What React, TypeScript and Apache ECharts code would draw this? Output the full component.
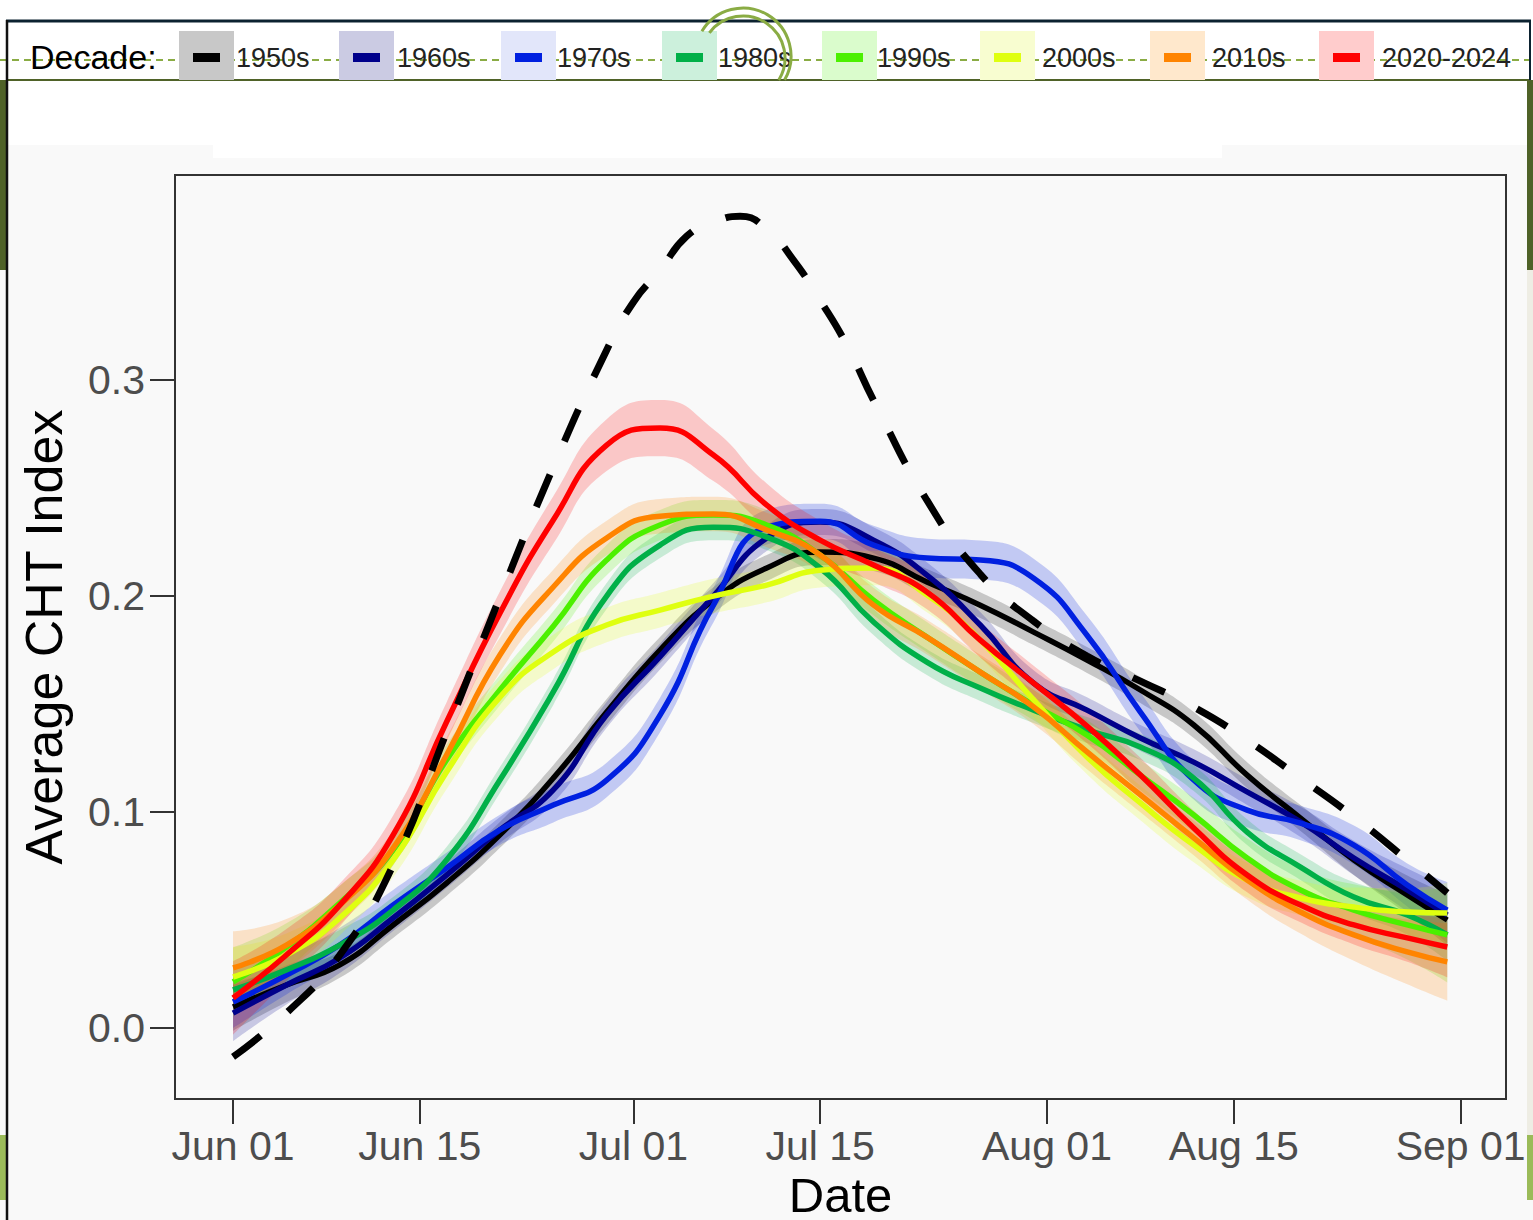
import React, { useEffect, useRef } from "react";
import * as echarts from "echarts";

// ---------- data ----------
const DAYS = [0, 4, 8, 12, 16, 20, 24, 28, 32, 36, 40, 44, 48, 52, 56, 60, 64, 68, 72, 76, 80, 84, 88, 91];

const DECADES = ["1950s", "1960s", "1970s", "1980s", "1990s", "2000s", "2010s", "2020-2024"];
const LINE_COLORS = ["#000000", "#00008b", "#0020e0", "#00b048", "#4cf000", "#dfff10", "#ff8400", "#ff0000"];
const BAND_COLORS = [
  "rgba(0,0,0,0.2)",
  "rgba(0,0,139,0.2)",
  "rgba(0,32,224,0.22)",
  "rgba(0,176,72,0.2)",
  "rgba(76,240,0,0.2)",
  "rgba(223,255,16,0.2)",
  "rgba(255,132,0,0.2)",
  "rgba(255,0,0,0.2)",
];
const KEY_COLORS = ["#c8c8c8", "#cbcbe3", "#e2e6fa", "#ccf0dc", "#dafccc", "#f8fdd0", "#ffe8cc", "#ffcccc"];

const MEAN_1950S = [0.0097, 0.0199, 0.0292, 0.0477, 0.0671, 0.0894, 0.1157, 0.1463, 0.175, 0.1981, 0.213, 0.2204, 0.2176, 0.2065, 0.1958, 0.1833, 0.1704, 0.1565, 0.1403, 0.1171, 0.0972, 0.0778, 0.0616, 0.05];
const MEAN_1960S = [0.0069, 0.0199, 0.0324, 0.0509, 0.0708, 0.0917, 0.1102, 0.145, 0.172, 0.2, 0.2269, 0.2343, 0.2259, 0.2097, 0.1866, 0.1597, 0.1472, 0.1343, 0.1231, 0.1093, 0.0954, 0.0787, 0.0639, 0.0523];
const MEAN_1970S = [0.012, 0.0245, 0.0384, 0.0569, 0.0741, 0.0917, 0.1032, 0.1148, 0.1449, 0.1958, 0.2319, 0.2347, 0.2236, 0.2176, 0.2167, 0.2083, 0.1819, 0.1463, 0.1148, 0.1009, 0.0949, 0.0847, 0.0662, 0.0546];
const MEAN_1980S = [0.0176, 0.0269, 0.0384, 0.0546, 0.0778, 0.1148, 0.1556, 0.2, 0.2236, 0.2319, 0.2273, 0.213, 0.188, 0.1694, 0.1574, 0.1472, 0.138, 0.1301, 0.1157, 0.0907, 0.0745, 0.0606, 0.0523, 0.0431];
const MEAN_1990S = [0.0213, 0.0375, 0.0579, 0.0824, 0.1241, 0.1565, 0.186, 0.2167, 0.2329, 0.2375, 0.2329, 0.219, 0.1981, 0.181, 0.1648, 0.1495, 0.1356, 0.1171, 0.0986, 0.0787, 0.0639, 0.0546, 0.0477, 0.0431];
const MEAN_2000S = [0.0236, 0.0338, 0.0509, 0.0778, 0.1185, 0.1532, 0.1741, 0.1866, 0.1935, 0.2, 0.2051, 0.212, 0.213, 0.2005, 0.1796, 0.1519, 0.1255, 0.1042, 0.0847, 0.0685, 0.0602, 0.056, 0.0537, 0.0532];
const MEAN_2010S = [0.0278, 0.0384, 0.0569, 0.0833, 0.1264, 0.1727, 0.2042, 0.2269, 0.237, 0.238, 0.2306, 0.219, 0.1958, 0.181, 0.1648, 0.1486, 0.1278, 0.1079, 0.088, 0.0685, 0.0537, 0.0431, 0.0352, 0.0306];
const MEAN_2020S = [0.0139, 0.0338, 0.0569, 0.0894, 0.1417, 0.1921, 0.2352, 0.2699, 0.2778, 0.2653, 0.2421, 0.2259, 0.2144, 0.2019, 0.1796, 0.1597, 0.1398, 0.1171, 0.0926, 0.0708, 0.0569, 0.0477, 0.0417, 0.0375];

const SE_1950S = [0.011, 0.008, 0.006, 0.006, 0.006, 0.006, 0.006, 0.006, 0.006, 0.006, 0.006, 0.006, 0.006, 0.006, 0.006, 0.006, 0.006, 0.006, 0.006, 0.006, 0.006, 0.007, 0.009, 0.012];
const SE_1960S = [0.013, 0.009, 0.007, 0.006, 0.006, 0.006, 0.006, 0.006, 0.006, 0.006, 0.006, 0.006, 0.006, 0.006, 0.006, 0.006, 0.006, 0.006, 0.006, 0.006, 0.007, 0.008, 0.01, 0.013];
const SE_1970S = [0.012, 0.009, 0.008, 0.007, 0.007, 0.007, 0.008, 0.008, 0.008, 0.008, 0.008, 0.008, 0.009, 0.009, 0.009, 0.009, 0.009, 0.009, 0.009, 0.008, 0.008, 0.009, 0.01, 0.013];
const SE_1980S = [0.011, 0.008, 0.007, 0.006, 0.006, 0.006, 0.006, 0.006, 0.006, 0.006, 0.006, 0.006, 0.006, 0.006, 0.006, 0.006, 0.006, 0.006, 0.006, 0.006, 0.006, 0.007, 0.009, 0.012];
const SE_1990S = [0.016, 0.011, 0.008, 0.007, 0.007, 0.007, 0.007, 0.007, 0.007, 0.007, 0.007, 0.007, 0.007, 0.007, 0.007, 0.007, 0.007, 0.007, 0.008, 0.009, 0.01, 0.012, 0.016, 0.022];
const SE_2000S = [0.014, 0.01, 0.008, 0.008, 0.008, 0.008, 0.008, 0.008, 0.008, 0.008, 0.008, 0.008, 0.008, 0.008, 0.008, 0.008, 0.008, 0.008, 0.008, 0.008, 0.008, 0.009, 0.011, 0.014];
const SE_2010S = [0.017, 0.012, 0.009, 0.008, 0.008, 0.008, 0.008, 0.008, 0.008, 0.008, 0.008, 0.008, 0.008, 0.008, 0.008, 0.008, 0.008, 0.008, 0.008, 0.009, 0.01, 0.012, 0.015, 0.018];
const SE_2020S = [0.017, 0.012, 0.01, 0.009, 0.009, 0.01, 0.011, 0.012, 0.013, 0.012, 0.01, 0.009, 0.008, 0.008, 0.008, 0.008, 0.008, 0.008, 0.008, 0.008, 0.008, 0.009, 0.011, 0.014];

const MEANS = [MEAN_1950S, MEAN_1960S, MEAN_1970S, MEAN_1980S, MEAN_1990S, MEAN_2000S, MEAN_2010S, MEAN_2020S];
const SES = [SE_1950S, SE_1960S, SE_1970S, SE_1980S, SE_1990S, SE_2000S, SE_2010S, SE_2020S];

// dashed overall curve
const OVERALL_DAYS = [0, 4, 8, 12, 16, 20, 24, 28, 30, 32, 34, 36, 38, 40, 42, 44, 46, 48, 52, 56, 60, 64, 68, 72, 76, 80, 84, 88, 91];
const OVERALL = [-0.0134, 0.0069, 0.0338, 0.0755, 0.137, 0.1995, 0.2597, 0.3139, 0.3361, 0.3509, 0.3667, 0.3731, 0.3759, 0.3699, 0.3556, 0.337, 0.3162, 0.2907, 0.2444, 0.2102, 0.1884, 0.1722, 0.1606, 0.1486, 0.1333, 0.1157, 0.0977, 0.0778, 0.0625];

const X_TICK_DAYS = [0, 14, 30, 44, 61, 75, 92];
const X_TICK_LABELS = ["Jun 01", "Jun 15", "Jul 01", "Jul 15", "Aug 01", "Aug 15", "Sep 01"];
const Y_TICKS = [0, 0.1, 0.2, 0.3];

// ---------- layout ----------
const W = 1533;
const H = 1220;
const X_MIN_DAY = -4.35;
const X_MAX_DAY = 95.4;
const Y_MIN = -0.0329;
const Y_MAX = 0.395;
const SMOOTH = 0.5;
const FONT = "'Liberation Sans', Arial, Helvetica, sans-serif";
const LEGEND_BOX_X = [179, 339, 501, 662, 822, 980, 1150, 1319];
const LEGEND_TEXT_X = [236, 397, 557, 718, 877, 1042, 1212, 1382];

// Smooth path segment in the same manner as ECharts' smoothed line
function smoothSegment(ctx: any, pts: number[][], moveFirst: boolean) {
  const n = pts.length;
  let prevX = 0, prevY = 0, cpx0 = 0, cpy0 = 0;
  for (let k = 0; k < n; k++) {
    const x = pts[k][0], y = pts[k][1];
    if (k === 0) {
      if (moveFirst) ctx.moveTo(x, y);
      else ctx.lineTo(x, y);
      cpx0 = x; cpy0 = y;
    } else {
      let cpx1 = x, cpy1 = y, nextCpx0 = x, nextCpy0 = y;
      if (k < n - 1) {
        const nextX = pts[k + 1][0], nextY = pts[k + 1][1];
        let vx = nextX - prevX, vy = nextY - prevY;
        const dx0 = x - prevX, dy0 = y - prevY, dx1 = nextX - x, dy1 = nextY - y;
        const lenPrev = Math.sqrt(dx0 * dx0 + dy0 * dy0);
        const lenNext = Math.sqrt(dx1 * dx1 + dy1 * dy1);
        const ratio = lenNext / (lenNext + lenPrev);
        nextCpx0 = x + vx * SMOOTH * ratio;
        nextCpy0 = y + vy * SMOOTH * ratio;
        nextCpx0 = Math.max(Math.min(nextCpx0, Math.max(nextX, x)), Math.min(nextX, x));
        nextCpy0 = Math.max(Math.min(nextCpy0, Math.max(nextY, y)), Math.min(nextY, y));
        vx = nextCpx0 - x; vy = nextCpy0 - y;
        cpx1 = x - (vx * lenPrev) / lenNext;
        cpy1 = y - (vy * lenPrev) / lenNext;
        cpx1 = Math.max(Math.min(cpx1, Math.max(prevX, x)), Math.min(prevX, x));
        cpy1 = Math.max(Math.min(cpy1, Math.max(prevY, y)), Math.min(prevY, y));
        vx = x - cpx1; vy = y - cpy1;
        nextCpx0 = x + (vx * lenNext) / lenPrev;
        nextCpy0 = y + (vy * lenNext) / lenPrev;
      }
      ctx.bezierCurveTo(cpx0, cpy0, cpx1, cpy1, x, y);
      cpx0 = nextCpx0; cpy0 = nextCpy0;
    }
    prevX = x; prevY = y;
  }
}

echarts.graphic.registerShape(
  "ciRibbon",
  echarts.graphic.extendShape({
    shape: { upper: [] as number[][], lower: [] as number[][] },
    buildPath(ctx: any, shape: any) {
      if (!shape.upper || !shape.upper.length) return;
      smoothSegment(ctx, shape.upper, true);
      smoothSegment(ctx, shape.lower.slice().reverse(), false);
      ctx.closePath();
    },
  }) as any
);

function buildOption() {
  const series: any[] = [];
  DECADES.forEach((name, i) => {
    const mean = MEANS[i];
    const se = SES[i];
    series.push({
      type: "custom",
      name: name + " band",
      coordinateSystem: "cartesian2d",
      silent: true,
      data: [[DAYS[0], mean[0]]],
      renderItem: (params: any, api: any) => {
        const upper = DAYS.map((d, k) => api.coord([d, mean[k] + se[k]]));
        const lower = DAYS.map((d, k) => api.coord([d, mean[k] - se[k]]));
        return {
          type: "ciRibbon",
          shape: { upper, lower },
          style: { fill: BAND_COLORS[i], stroke: null },
        };
      },
    });
    series.push({
      type: "line",
      name,
      data: DAYS.map((d, k) => [d, mean[k]]),
      smooth: SMOOTH,
      symbol: "none",
      silent: true,
      lineStyle: { color: LINE_COLORS[i], width: 5.5 },
      emphasis: { disabled: true },
    });
  });
  series.push({
    type: "line",
    name: "All years",
    data: OVERALL_DAYS.map((d, k) => [d, OVERALL[k]]),
    smooth: SMOOTH,
    symbol: "none",
    silent: true,
    z: 5,
    lineStyle: { color: "#000", width: 7, type: [35, 36], cap: "butt" },
    emphasis: { disabled: true },
  });

  const olive = "#4f6228";
  const lightOlive = "#8aac44";
  const graphic: any[] = [
    { type: "rect", shape: { x: 0, y: 0, width: W, height: 145 }, style: { fill: "#ffffff" }, silent: true },
    { type: "rect", shape: { x: 213, y: 145, width: 1009, height: 13 }, style: { fill: "#ffffff" }, silent: true },
    { type: "rect", shape: { x: 0, y: 80, width: 7, height: 190 }, style: { fill: olive }, silent: true },
    { type: "rect", shape: { x: 1527, y: 80, width: 6, height: 190 }, style: { fill: olive }, silent: true },
    { type: "rect", shape: { x: 1527, y: 270, width: 6, height: 865 }, style: { fill: "#eeede4" }, silent: true },
    { type: "rect", shape: { x: 0, y: 1135, width: 7, height: 65 }, style: { fill: "#9bbb59" }, silent: true },
    { type: "rect", shape: { x: 1527, y: 1135, width: 6, height: 65 }, style: { fill: "#9bbb59" }, silent: true },
    { type: "line", shape: { x1: 0, y1: 60, x2: W, y2: 60 }, style: { stroke: lightOlive, lineWidth: 2, lineDash: [7, 5] }, silent: true },
    { type: "line", shape: { x1: 7, y1: 80, x2: 1530, y2: 80 }, style: { stroke: olive, lineWidth: 2 }, silent: true },
    { type: "line", shape: { x1: 6, y1: 21, x2: 1531, y2: 21 }, style: { stroke: "#0c2230", lineWidth: 3 }, silent: true },
    { type: "line", shape: { x1: 1530, y1: 21, x2: 1530, y2: 80 }, style: { stroke: "#0c2230", lineWidth: 2 }, silent: true },
    { type: "line", shape: { x1: 7, y1: 20, x2: 7, y2: H }, style: { stroke: "#111", lineWidth: 2.5 }, silent: true },
    {
      type: "text",
      x: 30,
      y: 57,
      style: { text: "Decade:", fontSize: 34, fontFamily: FONT, fill: "#000", verticalAlign: "middle", align: "left" },
      silent: true,
    },
  ];
  DECADES.forEach((name, i) => {
    graphic.push({
      type: "rect",
      shape: { x: LEGEND_BOX_X[i], y: 31, width: 55, height: 49 },
      style: { fill: KEY_COLORS[i] },
      silent: true,
    });
    graphic.push({
      type: "rect",
      shape: { x: LEGEND_BOX_X[i] + 14, y: 53, width: 27, height: 9 },
      style: { fill: LINE_COLORS[i] },
      silent: true,
    });
    graphic.push({
      type: "text",
      x: LEGEND_TEXT_X[i],
      y: 58,
      style: { text: name, fontSize: 27, fontFamily: FONT, fill: "#222", verticalAlign: "middle", align: "left" },
      silent: true,
    });
  });
  graphic.push({
    type: "arc",
    shape: { cx: 743, cy: 56, r: 48, startAngle: -2.6, endAngle: 0.52, clockwise: true },
    style: { stroke: lightOlive, lineWidth: 3, fill: null },
    silent: true,
  });
  graphic.push({
    type: "arc",
    shape: { cx: 743, cy: 58, r: 42, startAngle: -2.5, endAngle: 0.55, clockwise: true },
    style: { stroke: lightOlive, lineWidth: 3, fill: null },
    silent: true,
  });

  return {
    animation: false,
    backgroundColor: "#f9f9f9",
    textStyle: { fontFamily: FONT },
    graphic,
    grid: {
      left: 175,
      top: 175,
      width: 1331,
      height: 924,
      show: true,
      borderColor: "#333",
      borderWidth: 2,
      backgroundColor: "transparent",
      containLabel: false,
      outerBoundsMode: "none",
    },
    xAxis: {
      type: "value",
      min: X_MIN_DAY,
      max: X_MAX_DAY,
      name: "Date",
      nameLocation: "middle",
      nameGap: 62,
      nameTextStyle: { fontSize: 49, color: "#000", fontFamily: FONT },
      axisLine: { show: true, onZero: false, lineStyle: { color: "#333", width: 2 } },
      axisTick: { show: true, length: 25, customValues: X_TICK_DAYS, lineStyle: { color: "#333", width: 2 } },
      axisLabel: {
        customValues: X_TICK_DAYS,
        margin: 26,
        fontSize: 41,
        color: "#4d4d4d",
        fontFamily: FONT,
        showMinLabel: true,
        showMaxLabel: true,
        formatter: (v: number) => {
          const i = X_TICK_DAYS.findIndex((t) => Math.abs(t - v) < 0.5);
          return i >= 0 ? X_TICK_LABELS[i] : "";
        },
      },
      splitLine: { show: false },
    },
    yAxis: {
      type: "value",
      min: Y_MIN,
      max: Y_MAX,
      name: "Average CHT Index",
      nameLocation: "middle",
      nameGap: 105,
      nameTextStyle: { fontSize: 52, color: "#000", fontFamily: FONT },
      axisLine: { show: true, onZero: false, lineStyle: { color: "#333", width: 2 } },
      axisTick: { show: true, length: 25, customValues: Y_TICKS, lineStyle: { color: "#333", width: 2 } },
      axisLabel: {
        customValues: Y_TICKS,
        margin: 30,
        fontSize: 41,
        color: "#4d4d4d",
        fontFamily: FONT,
        formatter: (v: number) => v.toFixed(1),
      },
      splitLine: { show: false },
    },
    series,
  };
}

export default function App() {
  const ref = useRef<HTMLDivElement>(null);
  useEffect(() => {
    if (!ref.current) return;
    const chart = echarts.init(ref.current, undefined, { renderer: "svg" });
    chart.setOption(buildOption() as any);
    return () => chart.dispose();
  }, []);
  return <div ref={ref} style={{ position: "absolute", left: 0, top: 0, width: W, height: H }} />;
}
